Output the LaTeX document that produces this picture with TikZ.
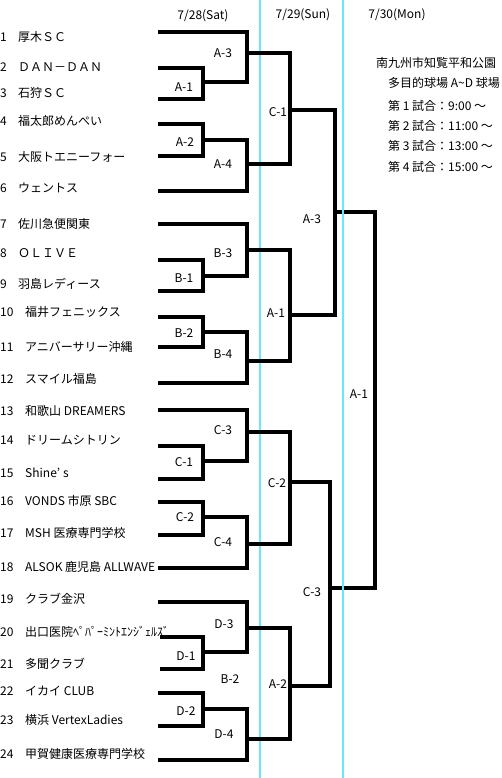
\documentclass[tikz,border=0pt]{standalone}
\usepackage{fontspec}
\setmainfont{Noto Sans CJK JP}
\definecolor{dayline}{RGB}{100,235,245}
\begin{document}
\begin{tikzpicture}[x=1pt,y=-1pt,line join=miter]
\tikzset{brk/.style={line width=4pt},
  daysep/.style={line width=1.6pt,dayline},
  txt/.style={inner sep=0pt,font=\fontsize{12}{14}\selectfont},
  lbl/.style={txt,anchor=center}}
\useasboundingbox (0,0) rectangle (502,778);
% ---------- day separator (behind) ----------
\draw[daysep] (260,0) -- (260,778);
% ---------- dates ----------
\node[lbl] (sat) at (203,16) {7/28(Sat)};
\node[lbl] (sun) at (303,15) {7/29(Sun)};
\node[lbl] (mon) at (397,15) {7/30(Mon)};
% ---------- teams ----------
\foreach \n/\y/\x/\team [count=\k] in {1/37/18/厚木ＳＣ, 2/67/18/ＤＡＮ－ＤＡＮ, 3/93/18/石狩ＳＣ,
  4/121/18/福太郎めんぺい, 5/157/18/大阪トエニーフォー, 6/188/18/ウェントス,
  7/224/18/佐川急便関東, 8/253/18/ＯＬＩＶＥ, 9/284/18/羽島レディース,
  10/312/25/福井フェニックス, 11/347/25/アニバーサリー沖縄, 12/379/25/スマイル福島,
  13/411/25/和歌山 DREAMERS, 14/440/25/ドリームシトリン, 15/473/25/Shine’\hspace{3pt}s,
  16/501/25/VONDS 市原 SBC, 17/533/25/MSH 医療専門学校, 18/567/25/ALSOK 鹿児島 ALLWAVE,
  19/599/25/クラブ金沢, 20/632/25/出口医院ﾍﾟﾊﾟｰﾐﾝﾄｴﾝｼﾞｪﾙｽﾞ, 21/664/25/多聞クラブ,
  22/691/25/イカイ CLUB, 23/720/25/横浜 VertexLadies, 24/754/25/甲賀健康医療専門学校}{
  \node[txt,anchor=west] (no\k) at (0,\y) {\n};
  \node[txt,anchor=west] (team\k) at (\x,\y) {\team};
}
% ---------- brackets: top end / bottom end / vertical / label ----------
\foreach \xa/\ya/\xb/\yb/\xv/\lx/\ly/\game [count=\k] in {
  158/68/158/99/203/184/87/A-1, 158/32/203/82/247/223/53/A-3,
  158/124/158/156/203/185/142/A-2, 203/140/158/191/247/223/164/A-4,
  158/260/158/291/203/184/278/B-1, 158/224/203/276/247/223/253/B-3,
  158/317/158/347/203/184/333/B-2, 203/332/158/383/247/223/354/B-4,
  158/446/158/479/203/184/462/C-1, 158/410/203/461/247/223/430/C-3,
  158/502/158/535/203/185/517/C-2, 203/517/158/568/247/223/542/C-4,
  160/637/160/669/203/186/656/D-1, 158/602/203/652/247/224/624/D-3,
  158/693/158/726/203/186/711/D-2, 203/709/158/760/247/224/734/D-4,
  247/53/247/164/290/278/112/C-1, 247/250/247/361/290/276/313/A-1,
  247/432/247/544/290/277/483/C-2, 247/628/247/739/290/278/684/A-2,
  290/110/290/315/335/312/219/A-3, 290/482/290/686/330/312/592/C-3,
  335/212/330/588/375/359/394/A-1}{
  \draw[brk] (\xa,\ya) -| (\xv,\yb) -- (\xb,\yb);
  \node[lbl] (game\k) at (\lx,\ly) {\game};
}
\node[lbl] (extra) at (230,679) {B-2};
% ---------- day separator (front) ----------
\draw[daysep] (343,0) -- (343,778);
% ---------- venue and times ----------
\node[txt,anchor=west] (venue) at (376,63) {南九州市知覧平和公園};
\node[txt,anchor=west] (field) at (388,83) {多目的球場 A\textasciitilde D 球場};
\foreach \g/\t/\y in {1/9:00/106, 2/11:00/126, 3/13:00/146, 4/15:00/167}{
  \node[txt,anchor=west] (time\g) at (388,\y) {第 \g{} 試合：\t{} ～};
}
\end{tikzpicture}
\end{document}
